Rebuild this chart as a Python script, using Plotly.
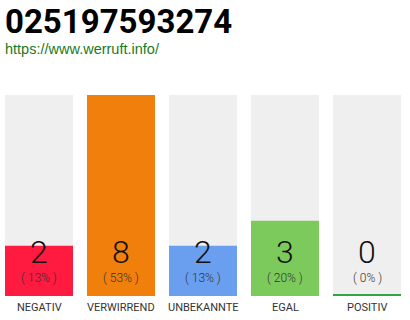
import plotly.graph_objects as go

title = "025197593274"
url = "https://www.werruft.info/"
categories = ["NEGATIV", "VERWIRREND", "UNBEKANNTE", "EGAL", "POSITIV"]
values = [2, 8, 2, 3, 0]
colors = ["#ff1a40", "#f17f0b", "#6a9ff0", "#7dca5c", "#2aa845"]

total = sum(values)
vmax = max(values)
pcts = [round(v * 100 / total) for v in values]
# zero values are shown as a thin line at the baseline
shown = [v if v > 0 else vmax * 0.009 for v in values]
x = list(range(len(categories)))

FONT = "Roboto, sans-serif"

fig = go.Figure()
fig.add_trace(go.Bar(x=x, y=[vmax] * len(x), marker=dict(color="#efefef", line=dict(width=0)),
                     width=68 / 82, hoverinfo="skip"))
fig.add_trace(go.Bar(x=x, y=shown, marker=dict(color=colors, line=dict(width=0)),
                     width=68 / 82, hoverinfo="skip"))

for i, (v, p, c) in enumerate(zip(values, pcts, categories)):
    fig.add_annotation(x=i, y=0.2125, xref="x", yref="paper", text=str(v), showarrow=False,
                       font=dict(family=FONT, size=32, color="#111111", weight=300), yanchor="middle")
    fig.add_annotation(x=i, y=0.13, xref="x", yref="paper", text=f"( {p}% )", showarrow=False,
                       font=dict(family=FONT, size=12, color="#333333", weight=300), yanchor="middle")
    fig.add_annotation(x=i, y=0.04, xref="x", yref="paper", text=c, showarrow=False,
                       font=dict(family=FONT, size=11, color="#333333"), yanchor="middle")

fig.add_annotation(x=5 / 410 - 0.004, y=0.934, xref="paper", yref="paper", text=f"<b>{title}</b>",
                   showarrow=False, xanchor="left", yanchor="middle",
                   font=dict(family=FONT, size=33, color="#000000"))
fig.add_annotation(x=5 / 410 - 0.004, y=0.846, xref="paper", yref="paper", text=url,
                   showarrow=False, xanchor="left", yanchor="middle",
                   font=dict(family="Liberation Sans, Arial, sans-serif", size=14.5, color="#1b7a1b"))

fig.update_layout(
    width=410, height=320, margin=dict(l=0, r=0, t=0, b=0),
    paper_bgcolor="white", plot_bgcolor="white", barmode="overlay", showlegend=False,
    xaxis=dict(range=[-0.5 + 2 / 82, 4.5 + 2 / 82], visible=False, fixedrange=True),
    yaxis=dict(range=[0, vmax], domain=[24 / 320, 225 / 320], visible=False, fixedrange=True),
)
fig.write_html("out.html", config={"displayModeBar": False})
